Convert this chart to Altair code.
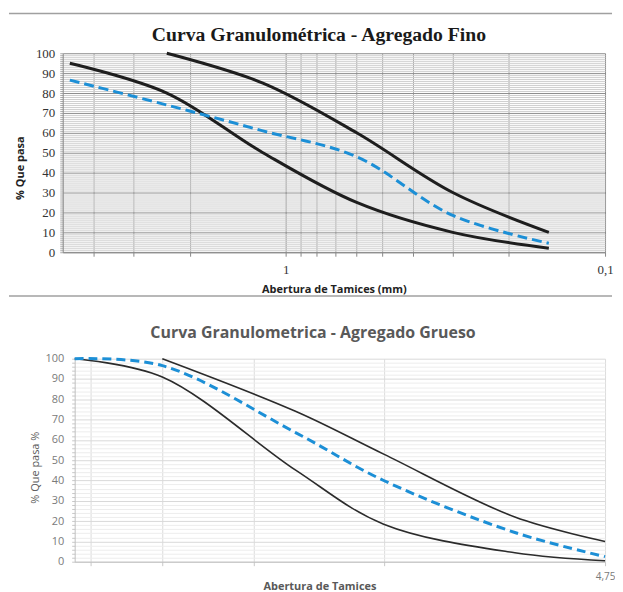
import altair as alt
import pandas as pd

# ---------------- data ----------------
fine_sieves = [4.75, 2.36, 1.18, 0.6, 0.3, 0.15]
fine_upper = [None, 100, 85, 60, 30, 10]
fine_lower = [95, 80, 50, 25, 10, 2]
fine_sample = [86.5, 74, 61, 48, 18.5, 4.5]

coarse_sieves = [25, 19, 12.5, 9.5, 6.3, 4.75]
coarse_upper = [None, 100, 74, 53, 22, 10]
coarse_lower = [100, 91, 45, 18.5, 4.4, 0.5]
coarse_sample = [100, 96.6, 63.5, 40, 14.4, 2.5]

fine_ticks = [4, 3, 2, 1, 0.9, 0.8, 0.7, 0.6, 0.5, 0.4, 0.3, 0.2, 0.1]
coarse_ticks = [23.75, 19, 14.25, 9.5, 4.75]
fine_y_ticks = list(range(0, 101, 1))
coarse_y_ticks = list(range(0, 101, 2))

fine_title = "Curva Granulométrica  - Agregado Fino"
coarse_title = "Curva Granulometrica - Agregado Grueso"


def long_table(sieves, upper, lower, sample):
    rows = []
    for name, vals in (("Límite superior", upper), ("Límite inferior", lower), ("Muestra", sample)):
        for s, v in zip(sieves, vals):
            if v is not None:
                rows.append({"abertura": s, "pasa": v, "serie": name})
    return pd.DataFrame(rows)


fine_df = long_table(fine_sieves, fine_upper, fine_lower, fine_sample)
coarse_df = long_table(coarse_sieves, coarse_upper, coarse_lower, coarse_sample)

BLUE = "#1c8fd6"
CURVE = "catmull-rom"

# ---------------- top chart: fine aggregate ----------------
fx = alt.X(
    "abertura:Q",
    scale=alt.Scale(type="log", domain=[0.1, 5], reverse=True, nice=False),
    axis=alt.Axis(
        values=fine_ticks,
        labelExpr="datum.value == 1 ? '1' : (datum.value < 0.11 ? '0,1' : '')",
        labelFlush=False,
        labelOverlap=False,
        labelFont="Liberation Serif",
        labelFontSize=13,
        labelColor="#333333",
        labelPadding=7,
        tickSize=4,
        tickColor="#888888",
        domainColor="#888888",
        gridColor={"condition": {"test": "datum.value == 1 || datum.value < 0.11", "value": "#8a8a8a"}, "value": "#a8a8a8"},
        title="Abertura de Tamices (mm)",
        titleFont="Open Sans",
        titleFontSize=11,
        titleFontWeight="bold",
        titleColor="#222222",
        titlePadding=7,
    ),
)
fy = alt.Y(
    "pasa:Q",
    scale=alt.Scale(domain=[0, 100], nice=False),
    axis=alt.Axis(
        values=fine_y_ticks,
        labelExpr="datum.value % 10 === 0 ? toString(datum.value) : ''",
        labelOverlap=False,
        labelFont="Liberation Serif",
        labelFontSize=13,
        labelColor="#333333",
        labelPadding=5,
        tickSize=3,
        tickColor="#aaaaaa",
        domainColor="#888888",
        gridColor={"condition": {"test": "datum.value % 10 === 0", "value": "#8c8c8c"}, "value": "#cfcfcf"},
        title="% Que pasa",
        titleFont="Open Sans",
        titleFontSize=11,
        titleFontWeight="bold",
        titleColor="#222222",
        titleX=-42,
        titleY=115,
        titleAngle=-90,
        titleAlign="center",
        titleBaseline="middle",
    ),
)

fine_limits = alt.Chart(fine_df).transform_filter("datum.serie != 'Muestra'").mark_line(
    color="#1e1e1e", strokeWidth=3, interpolate=CURVE
).encode(x=fx, y=fy, detail="serie:N")

fine_sample_line = alt.Chart(fine_df).transform_filter("datum.serie == 'Muestra'").mark_line(
    color=BLUE, strokeWidth=3, strokeDash=[10, 5], interpolate=CURVE
).encode(x=fx, y=fy)

border_df = pd.DataFrame({"b": [0]})
border_top = alt.Chart(border_df).mark_rule(color="#a0a0a0", strokeWidth=1.5).encode(
    x=alt.value(-54), x2=alt.value(552), y=alt.value(-40)
)
border_bottom = alt.Chart(border_df).mark_rule(color="#a0a0a0", strokeWidth=1.5).encode(
    x=alt.value(-54), x2=alt.value(552), y=alt.value(244)
)
fine_title_mark = alt.Chart(border_df).mark_text(
    font="Liberation Serif", fontSize=19.8, fontWeight="bold", color="#1a1a1a",
    align="center", baseline="middle",
).encode(x=alt.value(257.5), y=alt.value(-18), text=alt.value(fine_title))

top = alt.layer(fine_limits, fine_sample_line, border_top, border_bottom, fine_title_mark).properties(
    width=545,
    height=200,
)

# ---------------- bottom chart: coarse aggregate ----------------
GRAY = "#595959"
cx = alt.X(
    "abertura:Q",
    scale=alt.Scale(type="log", domain=[4.75, 25], reverse=True, nice=False, range=[12, 545]),
    axis=alt.Axis(
        values=coarse_ticks,
        labelExpr="datum.value == 4.75 ? '4,75' : ''",
        labelFlush=False,
        labelOverlap=False,
        labelFont="Open Sans",
        labelFontSize=10,
        labelColor="#7a7a7a",
        labelPadding=6,
        tickSize=4,
        tickColor="#c8c8c8",
        domainColor="#bfbfbf",
        gridColor="#dcdcdc",
        title="Abertura de Tamices",
        titleFont="Open Sans",
        titleFontSize=11,
        titleFontWeight="bold",
        titleColor=GRAY,
        titlePadding=-1,
        titleX=258,
    ),
)
cy = alt.Y(
    "pasa:Q",
    scale=alt.Scale(domain=[0, 100], nice=False),
    axis=alt.Axis(
        values=coarse_y_ticks,
        labelExpr="datum.value % 10 === 0 ? toString(datum.value) : ''",
        labelOverlap=False,
        labelFont="Open Sans",
        labelFontSize=11,
        labelColor="#7a7a7a",
        labelPadding=8,
        tickSize=3,
        tickColor="#c8c8c8",
        domainColor="#bfbfbf",
        offset=-12,
        gridColor={"condition": {"test": "datum.value % 10 === 0", "value": "#d9d9d9"}, "value": "#ededed"},
        title="% Que pasa %",
        titleFont="Open Sans",
        titleFontSize=11,
        titleFontWeight="normal",
        titleColor=GRAY,
        titleX=-39,
        titleY=109,
        titleAngle=-90,
        titleAlign="center",
        titleBaseline="middle",
    ),
)

coarse_limits = alt.Chart(coarse_df).transform_filter("datum.serie != 'Muestra'").mark_line(
    color="#2b2b2b", strokeWidth=1.6, interpolate=CURVE
).encode(x=cx, y=cy, detail="serie:N")

coarse_sample_line = alt.Chart(coarse_df).transform_filter("datum.serie == 'Muestra'").mark_line(
    color=BLUE, strokeWidth=3, strokeDash=[9, 5], interpolate=CURVE
).encode(x=cx, y=cy)

bottom = alt.layer(coarse_limits, coarse_sample_line).properties(
    width=545,
    height=204,
    title=alt.TitleParams(
        coarse_title,
        font="Open Sans",
        fontSize=16,
        fontWeight="bold",
        color=GRAY,
        anchor="middle",
        offset=12,
        dx=-21,
    ),
)

chart = alt.vconcat(top, bottom, spacing=27).properties(
    padding={"left": 0, "top": 3, "right": 0, "bottom": 0}
).configure_view(stroke=None)

chart.save("out.html", embed_options={"renderer": "svg", "actions": False})
